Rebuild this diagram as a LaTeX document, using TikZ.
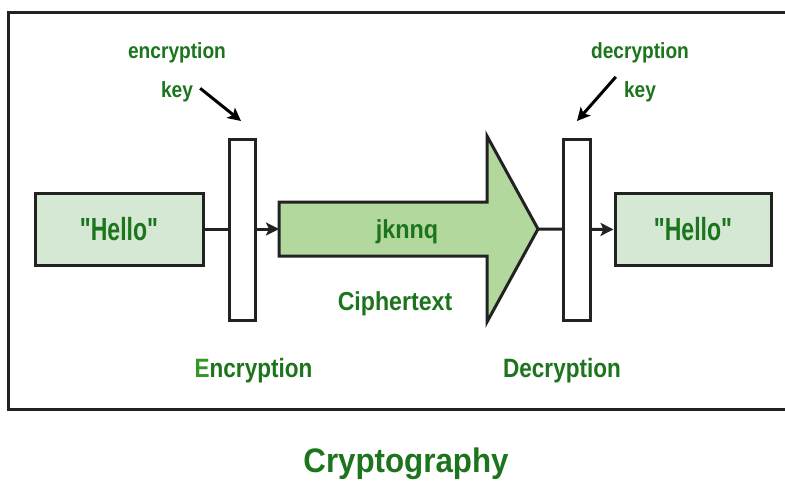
\documentclass[tikz,border=0pt]{standalone}
\usepackage{fontspec}
\setmainfont{Liberation Sans}
\newfontfamily\quotefont{Liberation Sans}[Ligatures=TeXOff]
\usetikzlibrary{arrows.meta}
\definecolor{tgreen}{RGB}{28,116,28}
\definecolor{egreen}{RGB}{52,150,40}
\definecolor{boxfill}{RGB}{213,232,212}
\definecolor{arrfill}{RGB}{178,216,158}
\definecolor{edge}{RGB}{34,34,34}
\newcommand{\narrowtxt}[2]{\scalebox{#1}[1]{#2}}
\begin{document}
\begin{tikzpicture}[x=1pt,y=-1pt,
  lbl/.style={text=tgreen,font=\bfseries,inner sep=0pt,anchor=base},
  hbox/.style={draw=edge,line width=3pt,fill=boxfill,inner sep=0pt,minimum height=72pt,
    text=tgreen,font=\fontsize{32}{36}\quotefont\bfseries},
  bar/.style={draw=edge,line width=3pt,fill=white,inner sep=0pt,minimum height=181pt},
  conn/.style={draw=edge,line width=3pt,-{Stealth[length=13pt,width=13pt,inset=3pt]}},
  keyarrow/.style={draw=black,line width=3pt,-{Stealth[length=13pt,width=13pt,inset=3pt]}},
  frame/.style={draw=edge,line width=3pt}]
\useasboundingbox (0,0) rectangle (785,487);
\fill[white] (0,0) rectangle (785,487);
% outer frame (right side runs past the picture edge)
\draw[frame] (8,13) rectangle (800,409);

% plaintext boxes
\node[hbox,minimum width=168pt] (h1) at (119,229) {\narrowtxt{0.72}{"Hello"}};
\node[hbox,minimum width=156pt] (h2) at (693,229.5) {\narrowtxt{0.72}{"Hello"}};

% big ciphertext arrow
\filldraw[draw=edge,line width=3pt,fill=arrfill,line join=miter]
  (279,202) -- (487,202) -- (487,136) -- (538,229) -- (487,322) -- (487,256) -- (279,256) -- cycle;
\coordinate (arw) at (279,229);
\coordinate (tip) at (538,229);
\node[lbl,font=\fontsize{26}{30}\selectfont\bfseries] (ct) at (407,238) {\narrowtxt{0.9}{jknnq}};

% connectors
\draw[conn] (h1.east) -- (arw);
\draw[conn] (tip) -- (h2.west);

% encryption / decryption bars
\node[bar,minimum width=26pt] (encbar) at (242,229.5) {};
\node[bar,minimum width=27pt] (decbar) at (576.5,229.5) {};

% key labels
\node[lbl,font=\fontsize{22}{26}\selectfont\bfseries] (ek1) at (177,59) {\narrowtxt{0.87}{encryption}};
\node[lbl,font=\fontsize{22}{26}\selectfont\bfseries] (ek2) at (177,97) {\narrowtxt{0.87}{key}};
\node[lbl,font=\fontsize{22}{26}\selectfont\bfseries] (dk1) at (640,59) {\narrowtxt{0.87}{decryption}};
\node[lbl,font=\fontsize{22}{26}\selectfont\bfseries] (dk2) at (640,97) {\narrowtxt{0.87}{key}};
\coordinate (ektip) at (241,121);
\coordinate (dktip) at (577,121);
\draw[keyarrow] ([xshift=7pt,yshift=3pt]ek2.east) -- (ektip);
\draw[keyarrow] ([xshift=-8pt,yshift=4pt]dk2.north west) -- (dktip);

% captions
\node[lbl,font=\fontsize{26}{30}\selectfont\bfseries] (cap) at (395,310) {\narrowtxt{0.89}{Ciphertext}};
\node[lbl,font=\fontsize{26.5}{30}\selectfont\bfseries] (enc) at (253.5,377) {\narrowtxt{0.85}{\textcolor{egreen}{E}ncryption}};
\node[lbl,font=\fontsize{26.5}{30}\selectfont\bfseries] (dec) at (562,377) {\narrowtxt{0.85}{Decryption}};
\node[lbl,font=\fontsize{34}{38}\selectfont\bfseries] (title) at (406,472) {\narrowtxt{0.92}{Cryptography}};
\end{tikzpicture}
\end{document}
